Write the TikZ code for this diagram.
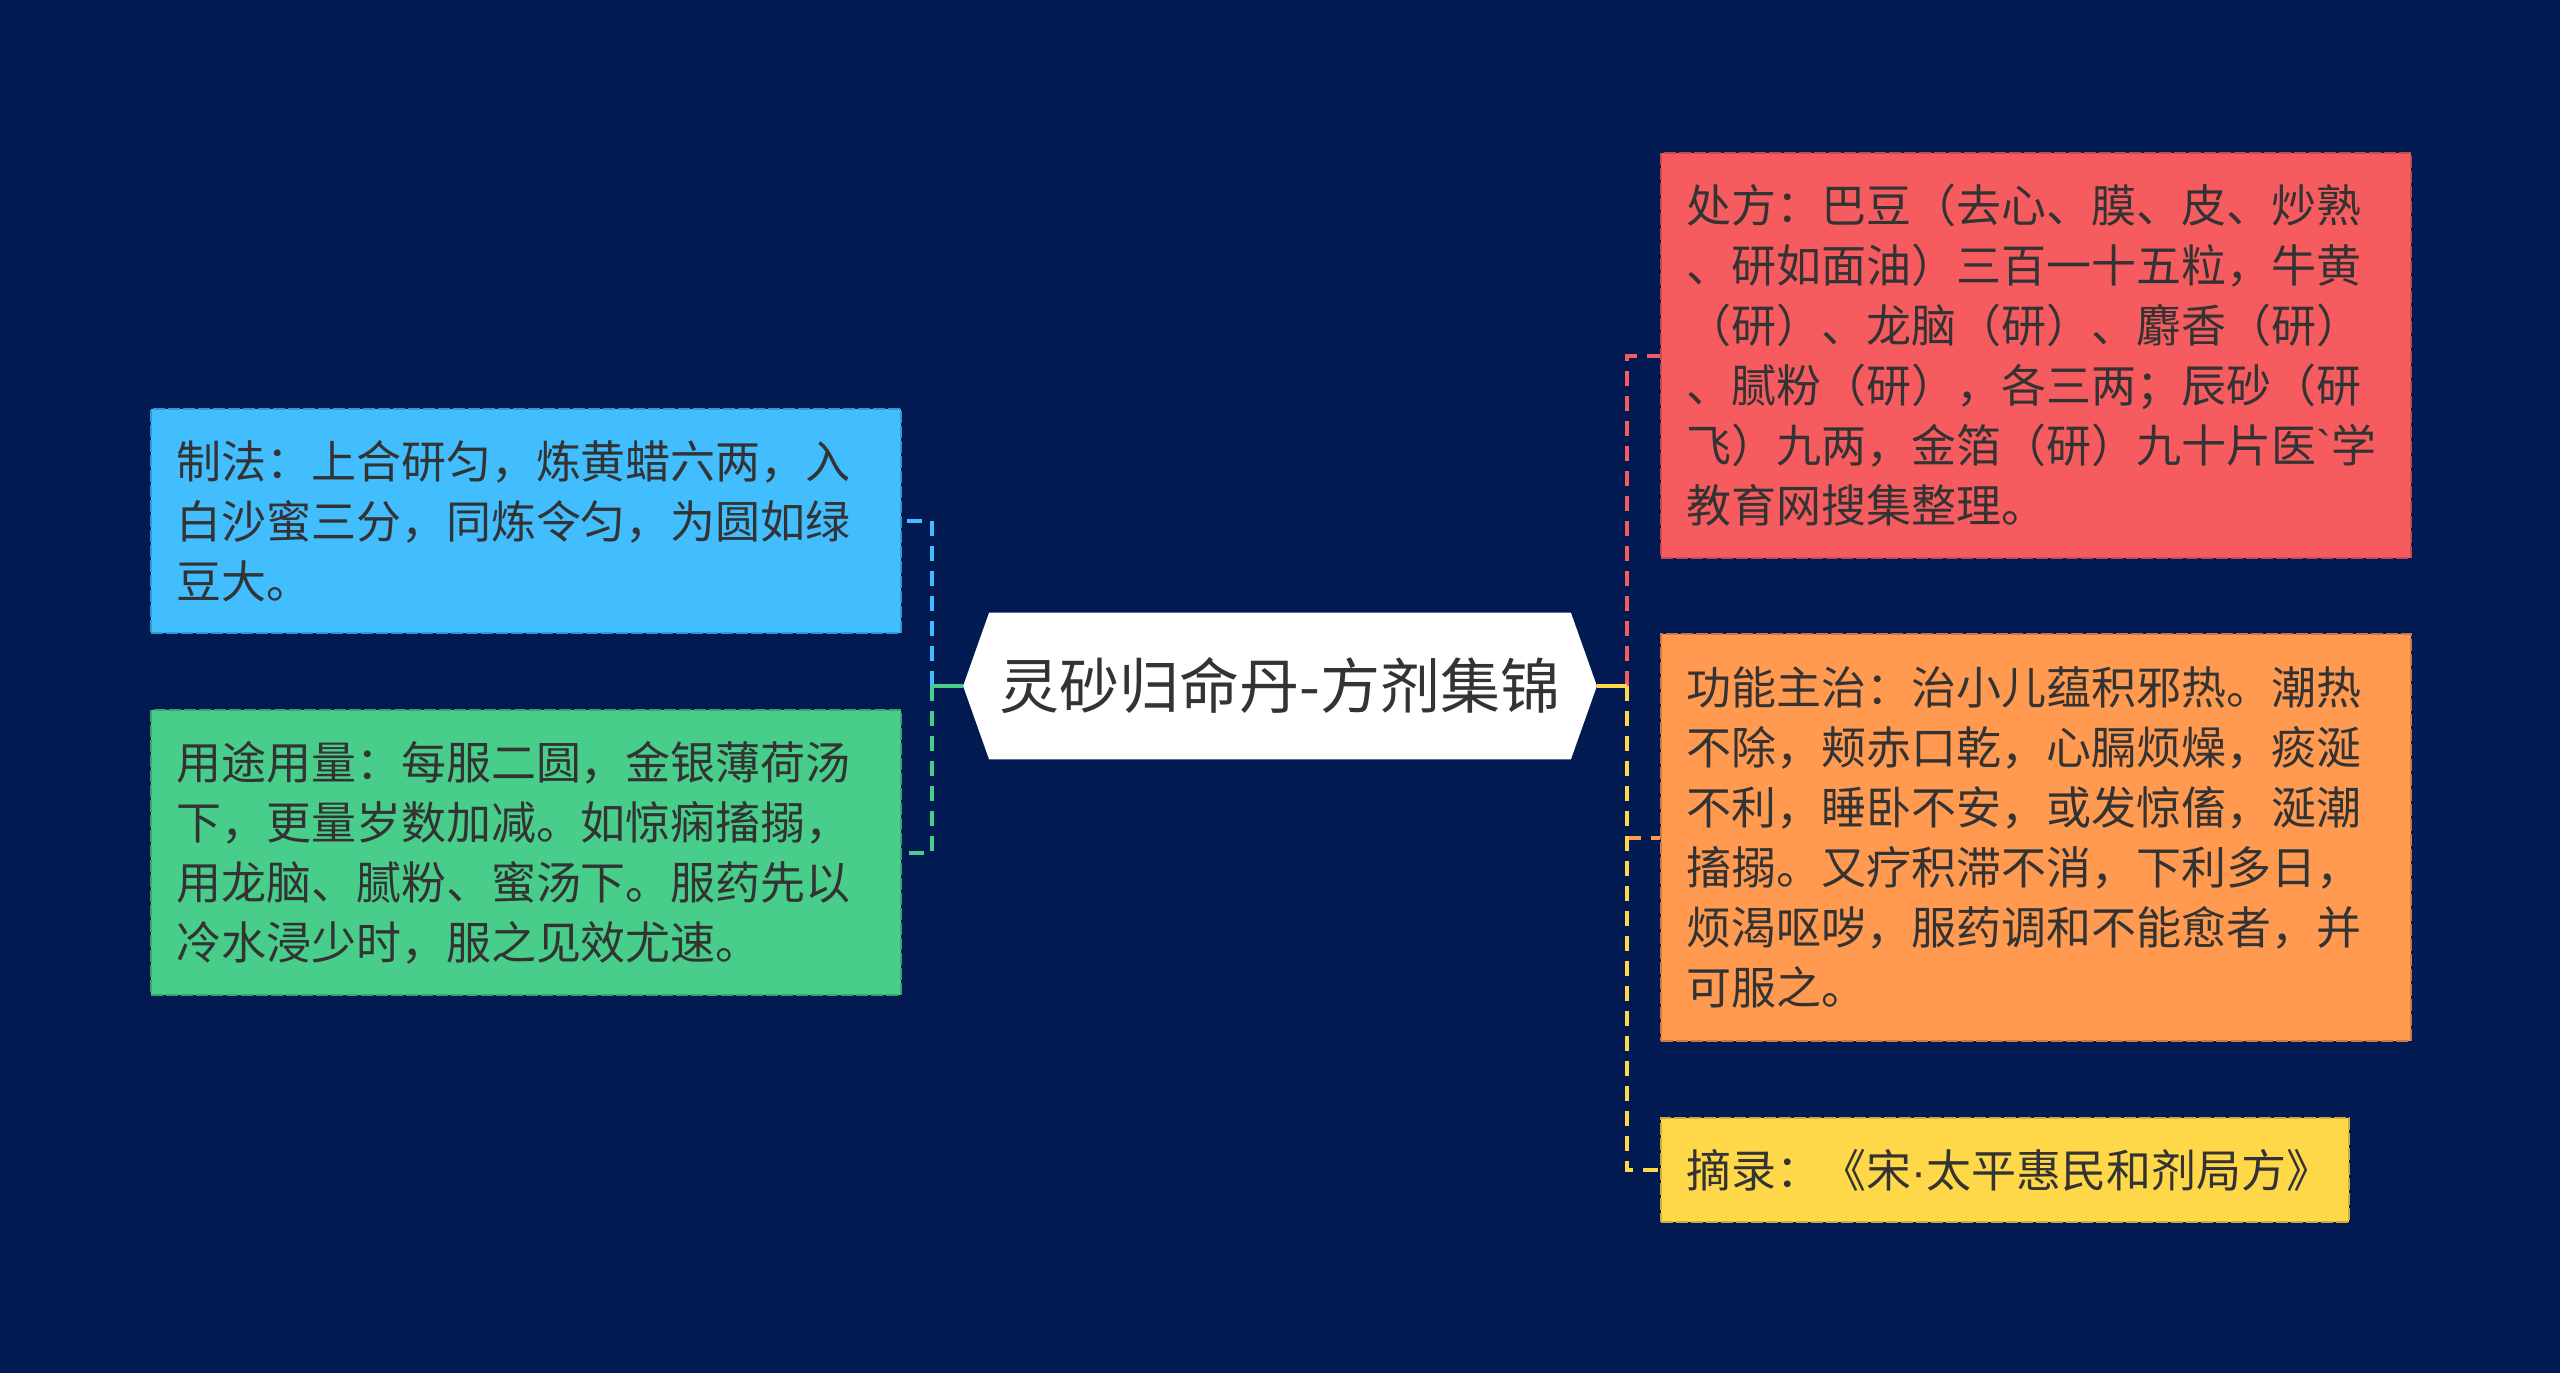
\documentclass[tikz,border=0pt]{standalone}
\usepackage{fontspec}
\setmainfont{Noto Sans CJK SC}
\newfontfamily\latinfont{Liberation Sans}
\usetikzlibrary{calc,backgrounds}
\definecolor{bg}{HTML}{021A52}
\definecolor{txt}{HTML}{333333}
\definecolor{cred}{HTML}{F65C5F}
\definecolor{corange}{HTML}{FF9A50}
\definecolor{cyellow}{HTML}{FFD84A}
\definecolor{cblue}{HTML}{42BEFF}
\definecolor{cgreen}{HTML}{48CD8B}
\tikzset{
  leaf/.style={anchor=north west, align=left, inner xsep=12.5pt, inner ysep=0pt,
    font=\fontsize{22.5}{30}\selectfont, text=txt, line width=1pt,
    dash pattern=on 6pt off 1.5pt, text width=350pt, minimum width=375pt},
  conn/.style={line width=2pt, dash pattern=on 7.5pt off 5pt},
  stem/.style={line width=2pt},
  rootnode/.style={inner sep=0pt, minimum width=290.5pt, minimum height=73pt,
    font=\fontsize{30}{36}\selectfont, text=txt}
}
\begin{document}
\begin{tikzpicture}[x=0.5pt,y=-0.5pt]
\useasboundingbox (0,0) rectangle (2560,1373);
\begin{scope}[on background layer]
\fill[bg] (0,0) rectangle (2560,1373);
\end{scope}

% central node
\node[rootnode] (root) at (1280,686) {灵砂归命丹-方剂集锦};
\coordinate (rootL) at ($(root.west)+(-26,0)$);
\coordinate (rootR) at ($(root.east)+(26,0)$);
\begin{scope}[on background layer]
\fill[white] (root.north west) -- (root.north east) -- (rootR) -- (root.south east)
  -- (root.south west) -- (rootL) -- cycle;
\end{scope}

% right boxes
\node[leaf, fill=cred, draw=cred!80!black, minimum height=202.5pt] (red) at (1660,152)
  {处方：巴豆（去心、膜、皮、炒熟\\、研如面油）三百一十五粒，牛黄\\（研）、龙脑（研）、麝香（研）\\、腻粉（研），各三两；辰砂（研\\飞）九两，金箔（研）九十片医{\latinfont\symbol{96}}学\\教育网搜集整理。};
\node[leaf, fill=corange, draw=corange!80!black, minimum height=203.5pt] (orange) at (1660,633)
  {功能主治：治小儿蕴积邪热。潮热\\不除，颊赤口乾，心膈烦燥，痰涎\\不利，睡卧不安，或发惊傗，涎潮\\搐搦。又疗积滞不消，下利多日，\\烦渴呕哕，服药调和不能愈者，并\\可服之。};
\node[leaf, fill=cyellow, draw=cyellow!80!black, minimum height=52pt, text width=319pt, minimum width=344pt] (yellow) at (1660,1117)
  {摘录：《宋{\latinfont ·}太平惠民和剂局方》};

% left boxes
\node[leaf, fill=cblue, draw=cblue!80!black, minimum height=112pt] (blue) at (150,408)
  {制法：上合研匀，炼黄蜡六两，入\\白沙蜜三分，同炼令匀，为圆如绿\\豆大。};
\node[leaf, fill=cgreen, draw=cgreen!80!black, minimum height=142.5pt] (green) at (150,709)
  {用途用量：每服二圆，金银薄荷汤\\下，更量岁数加减。如惊痫搐搦，\\用龙脑、腻粉、蜜汤下。服药先以\\冷水浸少时，服之见效尤速。};

% junctions
\coordinate (jl) at (932,686);
\coordinate (jr) at (1627,686);

% connectors left
\draw[conn, cblue] (jl) |- (blue.east);
\draw[conn, cgreen] (jl) |- (green.east);
\draw[stem, cgreen] (rootL) -- (jl);

% connectors right
\draw[conn, cred] (jr) |- (red.west);
\draw[conn, corange] (jr) |- (orange.west);
\draw[conn, cyellow] (jr) |- (yellow.west);
\draw[stem, cyellow] (rootR) -- (jr);
\end{tikzpicture}
\end{document}
